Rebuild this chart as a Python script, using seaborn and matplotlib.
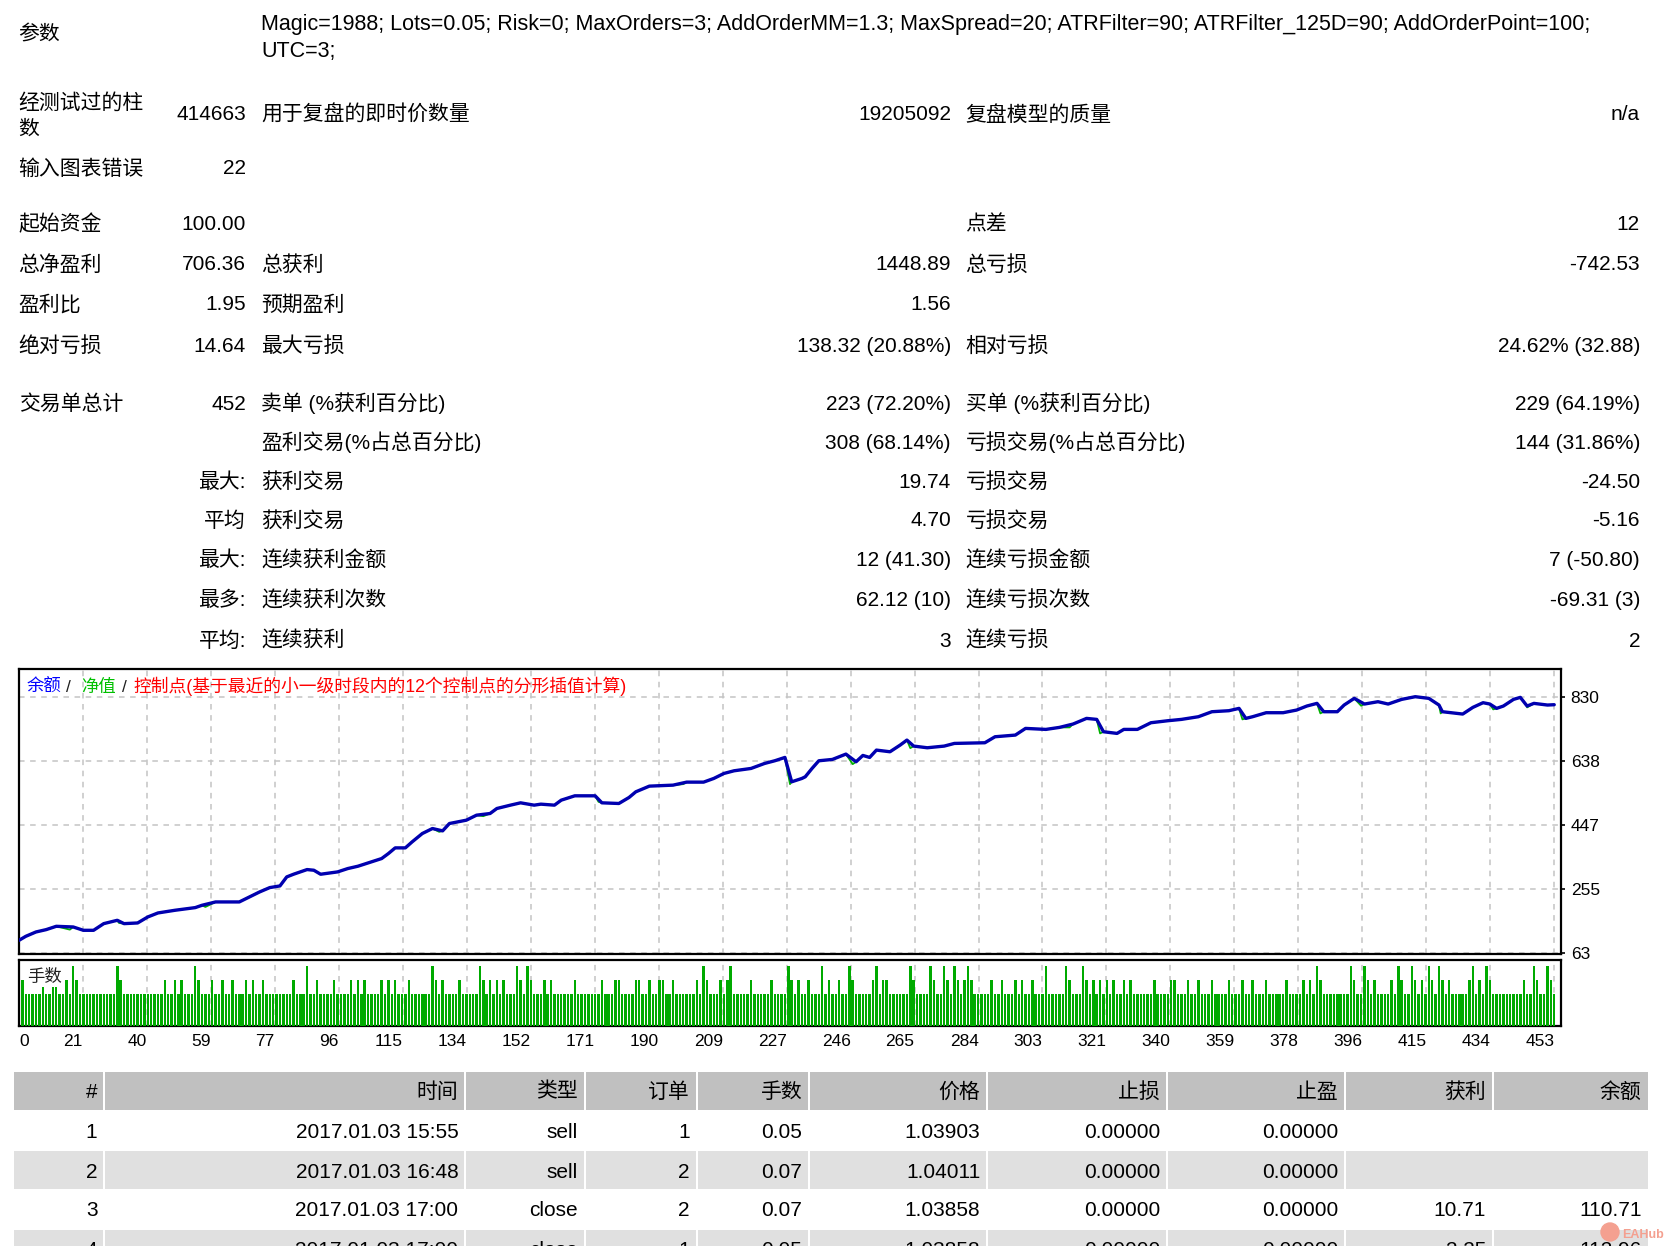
import numpy as np
import pandas as pd
import matplotlib
matplotlib.use("Agg")
import matplotlib.pyplot as plt
from matplotlib.patches import Rectangle
import seaborn as sns

sns.set_style("white")
plt.rcParams["font.family"] = ["Liberation Sans", "Noto Sans CJK SC", "DejaVu Sans"]
plt.rcParams["lines.scale_dashes"] = False

W, H = 1670, 1246

# ------------------------------------------------------------------ data
params_line1 = ("Magic=1988; Lots=0.05; Risk=0; MaxOrders=3; AddOrderMM=1.3; MaxSpread=20; "
                "ATRFilter=90; ATRFilter_125D=90; AddOrderPoint=100;")
params_line2 = "UTC=3;"

# (row centre y, col1 label, col1 value, col2 label, col2 value, col3 label, col3 value)
stat_rows = [
    (113, "", "414663", "用于复盘的即时价数量", "19205092", "复盘模型的质量", "n/a"),
    (167, "输入图表错误", "22", "", "", "", ""),
    (223, "起始资金", "100.00", "", "", "点差", "12"),
    (263, "总净盈利", "706.36", "总获利", "1448.89", "总亏损", "-742.53"),
    (303, "盈利比", "1.95", "预期盈利", "1.56", "", ""),
    (344, "绝对亏损", "14.64", "最大亏损", "138.32 (20.88%)", "相对亏损", "24.62% (32.88)"),
    (402, "交易单总计", "452", "卖单 (%获利百分比)", "223 (72.20%)", "买单 (%获利百分比)", "229 (64.19%)"),
    (442, "", "", "盈利交易(%占总百分比)", "308 (68.14%)", "亏损交易(%占总百分比)", "144 (31.86%)"),
    (480, "", "最大:", "获利交易", "19.74", "亏损交易", "-24.50"),
    (519, "", "平均", "获利交易", "4.70", "亏损交易", "-5.16"),
    (559, "", "最大:", "连续获利金额", "12 (41.30)", "连续亏损金额", "7 (-50.80)"),
    (599, "", "最多:", "连续获利次数", "62.12 (10)", "连续亏损次数", "-69.31 (3)"),
    (639, "", "平均:", "连续获利", "3", "连续亏损", "2"),
]

# balance curve (trade number, balance)
trade_idx = [0, 2, 5, 8, 11, 16, 19, 22, 25, 29, 31, 35, 38, 41, 46, 52, 54, 58, 65, 68,
             71, 74, 77, 79, 81, 85, 87, 89, 94, 97, 100, 103, 107, 109, 111, 114, 116, 119,
             122, 125, 127, 132, 135, 139, 141, 145, 148, 152, 154, 158, 160, 164, 170, 172,
             177, 180, 182, 186, 193, 197, 202, 205, 208, 211, 216, 220, 223, 226, 228, 231,
             232, 234, 236, 240, 244, 247, 249, 251, 253, 257, 260, 262, 264, 268, 273, 276,
             285, 288, 294, 297, 303, 307, 311, 315, 318, 320, 324, 326, 330, 334, 339, 343,
             348, 352, 357, 360, 362, 364, 368, 373, 377, 380, 383, 385, 389, 391, 394, 397,
             401, 404, 408, 412, 416, 419, 420, 426, 429, 432, 434, 436, 438, 441, 443, 445,
             447, 451, 453]
balance = [100, 112, 125, 132, 142, 140, 130, 130, 150, 160, 150, 152, 170, 182, 190, 198,
           205, 215, 215, 230, 245, 258, 263, 290, 298, 312, 310, 298, 305, 315, 322, 332,
           345, 360, 377, 377, 395, 420, 435, 428, 450, 460, 475, 480, 495, 505, 512, 505,
           508, 505, 520, 533, 533, 512, 510, 528, 545, 562, 565, 574, 574, 585, 600, 608,
           615, 630, 638, 648, 575, 585, 590, 615, 638, 642, 658, 635, 654, 648, 670, 665,
           685, 700, 682, 677, 682, 690, 692, 710, 715, 735, 732, 738, 748, 765, 762, 725,
           720, 732, 732, 752, 758, 762, 770, 785, 788, 795, 765, 770, 782, 782, 790, 802,
           810, 785, 785, 805, 825, 808, 815, 808, 822, 830, 825, 805, 785, 778, 798, 812,
           808, 795, 802, 822, 828, 802, 810, 805, 806]

# equity dips (floating losses) visible under the balance line
dip_idx = [15, 29.5, 55, 124, 137, 171, 196, 227.5, 246, 263, 310, 319, 361, 384, 396,
           419.5, 435, 445]
dip_equity = [132, 152, 200, 425, 472, 515, 568, 568, 628, 676, 738, 720, 762, 780, 803,
              780, 792, 798]

# lots per trade
n_trades = 453
lot_006_trades = [7, 10, 11]
lot_007_trades = [1, 14, 17, 30, 43, 46, 48, 53, 57, 60, 63, 67, 69, 72, 81, 88, 93, 98, 100,
                  102, 107, 109, 111, 115, 123, 125, 130, 137, 139, 141, 143, 148, 151, 155,
                  157, 164, 172, 176, 177, 182, 183, 186, 189, 190, 193, 200, 203, 207, 209,
                  216, 222, 228, 230, 233, 239, 242, 246, 252, 255, 256, 264, 270, 274, 277,
                  279, 281, 287, 290, 294, 296, 299, 310, 315, 317, 319, 321, 323, 326, 328,
                  335, 340, 341, 345, 348, 352, 357, 361, 364, 368, 374, 379, 381, 384, 394,
                  398, 400, 405, 408, 412, 414, 417, 420, 422, 428, 431, 434, 444, 448, 452]
lot_009_trades = [16, 29, 52, 85, 122, 136, 147, 150, 202, 210, 227, 237, 245, 253, 263, 269,
                  273, 276, 280, 303, 309, 314, 383, 393, 397, 407, 411, 416, 419, 429, 433,
                  447, 451]

x_tick_labels = ["0", "21", "40", "59", "77", "96", "115", "134", "152", "171", "190", "209",
                 "227", "246", "265", "284", "303", "321", "340", "359", "378", "396", "415",
                 "434", "453"]
y_tick_values = [63, 255, 447, 638, 830]

table_header = ["#", "时间", "类型", "订单", "手数", "价格", "止损", "止盈", "获利", "余额"]
table_rows = [
    ["1", "2017.01.03 15:55", "sell", "1", "0.05", "1.03903", "0.00000", "0.00000", "", ""],
    ["2", "2017.01.03 16:48", "sell", "2", "0.07", "1.04011", "0.00000", "0.00000", "", ""],
    ["3", "2017.01.03 17:00", "close", "2", "0.07", "1.03858", "0.00000", "0.00000", "10.71", "110.71"],
    ["4", "2017.01.03 17:00", "close", "1", "0.05", "1.03858", "0.00000", "0.00000", "2.25", "112.96"],
]

# ------------------------------------------------------------------ figure
fig = plt.figure(figsize=(W / 100, H / 100), dpi=100)
fig.patch.set_facecolor("white")


def frac(l, t, r, b):
    return [l / W, 1 - b / H, (r - l) / W, (b - t) / H]


def ptext(x, y, s, ha="left", size=15, color="black", **kw):
    # y is visual centre of the line, in pixels from the top
    fig.text(x / W, 1 - (y + 7.5) / H, s, ha=ha, va="baseline", fontsize=size,
             color=color, **kw)


bg = fig.add_axes([0, 0, 1, 1], zorder=-5)
bg.set_xlim(0, W)
bg.set_ylim(H, 0)
bg.axis("off")

# ---------------------------------------------------------- report header text
C1L, C1R, C2L, C2R, C3L, C3R = 18.6, 246, 261, 951, 965.5, 1640
ptext(C1L, 33, "参数")
ptext(C2L, 22.7, params_line1, size=15.5)
ptext(C2L, 50, params_line2, size=15.5)
ptext(C1L, 101.7, "经测试过的柱")
ptext(C1L, 126.7, "数")
for (y, l1, v1, l2, v2, l3, v3) in stat_rows:
    if l1:
        ptext(C1L, y, l1)
    if v1:
        ptext(C1R, y, v1, ha="right")
    if l2:
        ptext(C2L, y, l2)
    if v2:
        ptext(C2R, y, v2, ha="right")
    if l3:
        ptext(C3L, y, l3)
    if v3:
        ptext(C3R, y, v3, ha="right")

# ---------------------------------------------------------- balance chart
ax1 = fig.add_axes(frac(19, 669, 1561, 954))
ax2 = fig.add_axes(frac(19, 960, 1561, 1026))
xmax = 455.0
xticks = [k * 453 / 24 for k in range(25)]
grid_kw = dict(color="#C4C4C4", linestyle=(0, (4, 4)), linewidth=1.1)

eq = pd.DataFrame({"trade": trade_idx + dip_idx, "value": balance + dip_equity})
eq = eq.sort_values("trade", kind="stable")
bal = pd.DataFrame({"trade": trade_idx, "value": balance})

sns.lineplot(data=eq, x="trade", y="value", ax=ax1, color="#00B000", linewidth=1.3,
             estimator=None, sort=False, zorder=3)
sns.lineplot(data=bal, x="trade", y="value", ax=ax1, color="#0000B0", linewidth=2.4,
             estimator=None, sort=False, zorder=4)

ax1.set_xlim(0, xmax)
ax1.set_ylim(59, 913)
ax1.set_xticks(xticks)
ax1.set_yticks(y_tick_values)
ax1.set_yticklabels([str(v) for v in y_tick_values])
ax1.grid(True, **grid_kw)
ax1.set_xlabel("")
ax1.set_ylabel("")
ax1.tick_params(axis="x", length=0, labelbottom=False)
ax1.tick_params(axis="y", left=False, labelleft=False, right=True, labelright=True,
                direction="out", length=3, width=1.2, pad=4, labelsize=12.5, colors="black")
for s in ax1.spines.values():
    s.set_linewidth(1.6)
    s.set_color("black")

# legend-like caption inside the chart
cap_y = 686
fig.text(26.5 / W, 1 - (cap_y + 6) / H, "余额", color="#0000FF", fontsize=12.5, va="baseline")
fig.text(66 / W, 1 - (cap_y + 6) / H, "/", color="#202020", fontsize=12.5, va="baseline")
fig.text(81.5 / W, 1 - (cap_y + 6) / H, "净值", color="#00C000", fontsize=12.5, va="baseline")
fig.text(122 / W, 1 - (cap_y + 6) / H, "/", color="#202020", fontsize=12.5, va="baseline")
fig.text(133.7 / W, 1 - (cap_y + 6) / H, "控制点(基于最近的小一级时段内的12个控制点的分形插值计算)",
         color="#FF0000", fontsize=12.8, va="baseline")

# ---------------------------------------------------------- volume panel
lots = np.full(n_trades, 0.05)
lots[np.array(lot_006_trades) - 1] = 0.06
lots[np.array(lot_007_trades) - 1] = 0.07
lots[np.array(lot_009_trades) - 1] = 0.09
trade_no = np.arange(1, n_trades + 1)
ax2.bar(trade_no, lots, width=0.72, color="#00AA00", linewidth=0, zorder=3)
ax2.set_xlim(0, xmax)
ax2.set_ylim(0.0043, 0.0986)
ax2.set_yticks([])
ax2.set_xticks(xticks)
ax2.set_xticklabels(x_tick_labels)
ax2.grid(True, axis="x", **grid_kw)
ax2.tick_params(axis="x", direction="out", length=3, width=1.2, pad=3, labelsize=12.5,
                colors="black")
for i, lab in enumerate(ax2.get_xticklabels()):
    lab.set_ha("left" if i == 0 else "right")
for s in ax2.spines.values():
    s.set_linewidth(1.6)
    s.set_color("black")
fig.text(26.7 / W, 1 - (975.5 + 6) / H, "手数", color="#202020", fontsize=12.5, va="baseline")

# ---------------------------------------------------------- trades table
col_b = [12.8, 104.4, 465.4, 584.7, 696.5, 809.4, 987.2, 1167.2, 1345, 1493, 1648.6]
row_tops = [1072, 1111, 1151, 1190, 1230]
row_h = 38
row_colors = ["#C0C0C0", "white", "#E0E0E0", "white", "#E0E0E0"]
for r, (top, colr) in enumerate(zip(row_tops, row_colors)):
    if colr == "white":
        continue
    cells = list(zip(col_b[:-1], col_b[1:]))
    if r == 2:  # empty profit/balance cells are merged
        cells = cells[:8] + [(col_b[8], col_b[10])]
    for (l, rr) in cells:
        bg.add_patch(Rectangle((l + 1, top), rr - l - 2, row_h, facecolor=colr,
                               edgecolor="none"))

for j, h in enumerate(table_header):
    ptext(col_b[j + 1] - 7, 1090, h, ha="right")
for r, row in enumerate(table_rows):
    yc = row_tops[r + 1] + 19
    for j, v in enumerate(row):
        if v:
            ptext(col_b[j + 1] - 7, yc, v, ha="right")

# watermark
bg.add_patch(plt.Circle((1610, 1232), 9, color="#F4A090", zorder=5))
fig.text(1622 / W, 1 - 1238 / H, "EAHub", color="#F4A090", fontsize=9, va="baseline",
         fontweight="bold")

fig.savefig("out.png", dpi=100, facecolor="white")
